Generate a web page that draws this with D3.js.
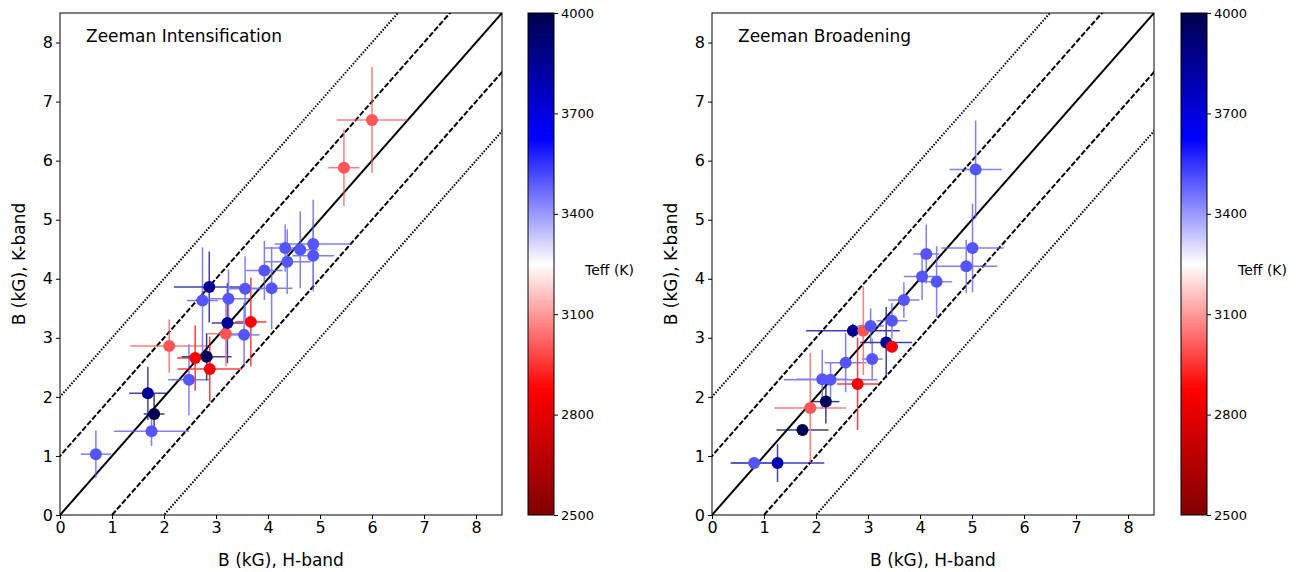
<!DOCTYPE html>
<html><head><meta charset="utf-8">
<script src="https://cdn.jsdelivr.net/npm/d3@7"></script>
<style>body{margin:0;background:#fff;} svg{display:block;font-family:"DejaVu Sans",sans-serif;}</style>
</head><body>
<svg id="c" width="1301" height="572"></svg>
<script>
// ---- data: Zeeman Intensification (left) ----
const intH    = [0.69,1.69,1.81,1.76,2.10,2.48,2.60,2.82,2.88,3.19,3.22,3.67,3.54,2.74,2.87,3.24,3.56,4.07,3.93,4.37,4.33,4.62,4.87,4.87,5.46,6.00];
const intK    = [1.03,2.06,1.71,1.42,2.86,2.29,2.66,2.68,2.47,3.07,3.25,3.27,3.05,3.63,3.86,3.66,3.83,3.84,4.14,4.29,4.52,4.49,4.59,4.39,5.88,6.69];
const intHerr = [0.29,0.36,0.20,0.72,0.75,0.40,0.35,0.48,0.62,0.35,0.30,0.30,0.30,0.30,0.68,0.42,0.35,0.40,0.35,0.45,0.40,0.35,0.74,0.40,0.30,0.68];
const intKerr = [0.40,0.45,0.35,0.25,0.45,0.60,0.55,0.40,0.55,0.55,0.68,0.75,0.55,0.90,0.60,0.50,0.55,0.70,0.50,0.55,0.40,0.65,0.75,0.60,0.65,0.90];
const intTeff = [3500,3850,3980,3500,3000,3500,2875,3980,2875,3000,3850,2875,3500,3500,3850,3500,3500,3500,3500,3500,3500,3500,3500,3500,3000,3000];
// ---- data: Zeeman Broadening (right) ----
const broH    = [0.81,1.26,1.74,1.89,2.19,2.12,2.28,2.57,2.80,3.08,2.71,2.91,3.05,3.35,3.46,3.46,3.69,4.04,4.32,4.12,5.07,5.01,4.89];
const broK    = [0.88,0.88,1.44,1.81,1.92,2.30,2.29,2.58,2.22,2.64,3.12,3.12,3.20,2.92,2.85,3.29,3.64,4.04,3.95,4.42,5.85,4.52,4.21];
const broHerr = [0.45,0.90,0.50,0.69,0.26,0.50,0.90,0.40,0.40,0.20,0.90,0.20,0.25,0.50,0.10,0.30,0.30,0.35,0.30,0.25,0.50,0.60,0.60];
const broKerr = [0.10,0.32,0.08,0.93,0.37,0.50,0.30,0.50,0.78,0.35,0.12,0.75,0.30,0.60,0.10,0.30,0.30,0.40,0.60,0.50,0.83,0.75,0.45];
const broTeff = [3500,3800,3980,3000,3980,3500,3500,3500,2875,3500,3850,3000,3500,3850,2875,3500,3500,3500,3500,3500,3500,3500,3500];
const axisTicks = [0,1,2,3,4,5,6,7,8];
const cbTicks = [2500,2800,3100,3400,3700,4000];
const titles = ["Zeeman Intensification","Zeeman Broadening"];
const xLabel = "B (kG), H-band", yLabel = "B (kG), K-band", cbLabel = "Teff (K)";

// seismic_r colormap
const seis = d3.scaleLinear().domain([0,0.25,0.5,0.75,1])
  .range(["rgb(128,0,0)","rgb(255,0,0)","rgb(255,255,255)","rgb(0,0,255)","rgb(0,0,77)"]);
const cnorm = d3.scaleLinear().domain([2500,4000]).range([0,1]).clamp(true);
const color = t => seis(cnorm(t));

const svg = d3.select("#c");
const defs = svg.append("defs");
const grad = defs.append("linearGradient").attr("id","cbg").attr("x1",0).attr("y1",1).attr("x2",0).attr("y2",0);
d3.range(0,1.0001,0.05).forEach(f=>grad.append("stop").attr("offset",f).attr("stop-color",seis(f)));

function panel(ox, cbx, H, K, Herr, Kerr, Teff, title, idx){
  const x = d3.scaleLinear().domain([0,8.5]).range([ox, ox+442]);
  const y = d3.scaleLinear().domain([0,8.5]).range([515, 13]);
  const g = svg.append("g");
  defs.append("clipPath").attr("id","clip"+idx).append("rect")
    .attr("x",ox).attr("y",13).attr("width",442).attr("height",502);
  const lg = g.append("g").attr("clip-path","url(#clip"+idx+")");
  const offs = [{o:0,d:null,w:2},{o:1,d:"5.5,2",w:2},{o:-1,d:"5.5,2",w:2},{o:2,d:"1.5,1.5",w:2},{o:-2,d:"1.5,1.5",w:2}];
  offs.forEach(L=>{
    lg.append("line").attr("x1",x(-1)).attr("y1",y(-1+L.o)).attr("x2",x(10)).attr("y2",y(10+L.o))
      .attr("stroke","#000").attr("stroke-width",L.w).attr("stroke-dasharray",L.d);
  });
  const idxs = d3.range(H.length);
  const eg = lg.append("g").attr("opacity",0.75);
  idxs.forEach(i=>{
    const c = color(Teff[i]);
    eg.append("line").attr("x1",x(H[i]-Herr[i])).attr("x2",x(H[i]+Herr[i])).attr("y1",y(K[i])).attr("y2",y(K[i]))
      .attr("stroke",c).attr("stroke-width",1.5);
    eg.append("line").attr("x1",x(H[i])).attr("x2",x(H[i])).attr("y1",y(K[i]-Kerr[i])).attr("y2",y(K[i]+Kerr[i]))
      .attr("stroke",c).attr("stroke-width",1.5);
  });
  lg.selectAll("circle.p").data(idxs).enter().append("circle")
    .attr("cx",i=>x(H[i])).attr("cy",i=>y(K[i])).attr("r",6).attr("fill",i=>color(Teff[i]));

  const xa = g.append("g").attr("transform","translate(0,515)").call(d3.axisBottom(x).tickValues(axisTicks).tickFormat(d3.format("d")).tickSizeOuter(0).tickSize(4));
  const ya = g.append("g").attr("transform","translate("+ox+",0)").call(d3.axisLeft(y).tickValues(axisTicks).tickFormat(d3.format("d")).tickSizeOuter(0).tickSize(4));
  [xa,ya].forEach(a=>{a.select(".domain").remove(); a.selectAll("text").attr("font-size",16).attr("font-family","DejaVu Sans").attr("fill","#000"); a.selectAll("line").attr("stroke","#000");});
  g.append("rect").attr("x",ox).attr("y",13).attr("width",442).attr("height",502).attr("fill","none").attr("stroke","#000").attr("stroke-width",1);
  g.append("text").attr("x",ox+26).attr("y",42).attr("font-size",17).text(title);
  g.append("text").attr("x",ox+221).attr("y",566).attr("text-anchor","middle").attr("font-size",17).text(xLabel);
  g.append("text").attr("transform","translate("+(ox-35)+",264) rotate(-90)").attr("text-anchor","middle").attr("font-size",17).text(yLabel);

  // colorbar
  const cy = d3.scaleLinear().domain([2500,4000]).range([515,13]);
  g.append("rect").attr("x",cbx).attr("y",13).attr("width",26).attr("height",502).attr("fill","url(#cbg)").attr("stroke","#000").attr("stroke-width",1);
  const ca = g.append("g").attr("transform","translate("+(cbx+26)+",0)").call(d3.axisRight(cy).tickValues(cbTicks).tickFormat(d3.format("d")).tickSize(4).tickSizeOuter(0));
  ca.select(".domain").remove();
  ca.selectAll("text").attr("font-size",13).attr("font-family","DejaVu Sans").attr("fill","#000");
  g.append("text").attr("x",cbx+57).attr("y",275).attr("font-size",14).text(cbLabel);
}
panel(60, 528, intH, intK, intHerr, intKerr, intTeff, titles[0], 0);
panel(712, 1181, broH, broK, broHerr, broKerr, broTeff, titles[1], 1);
</script>
</body></html>
